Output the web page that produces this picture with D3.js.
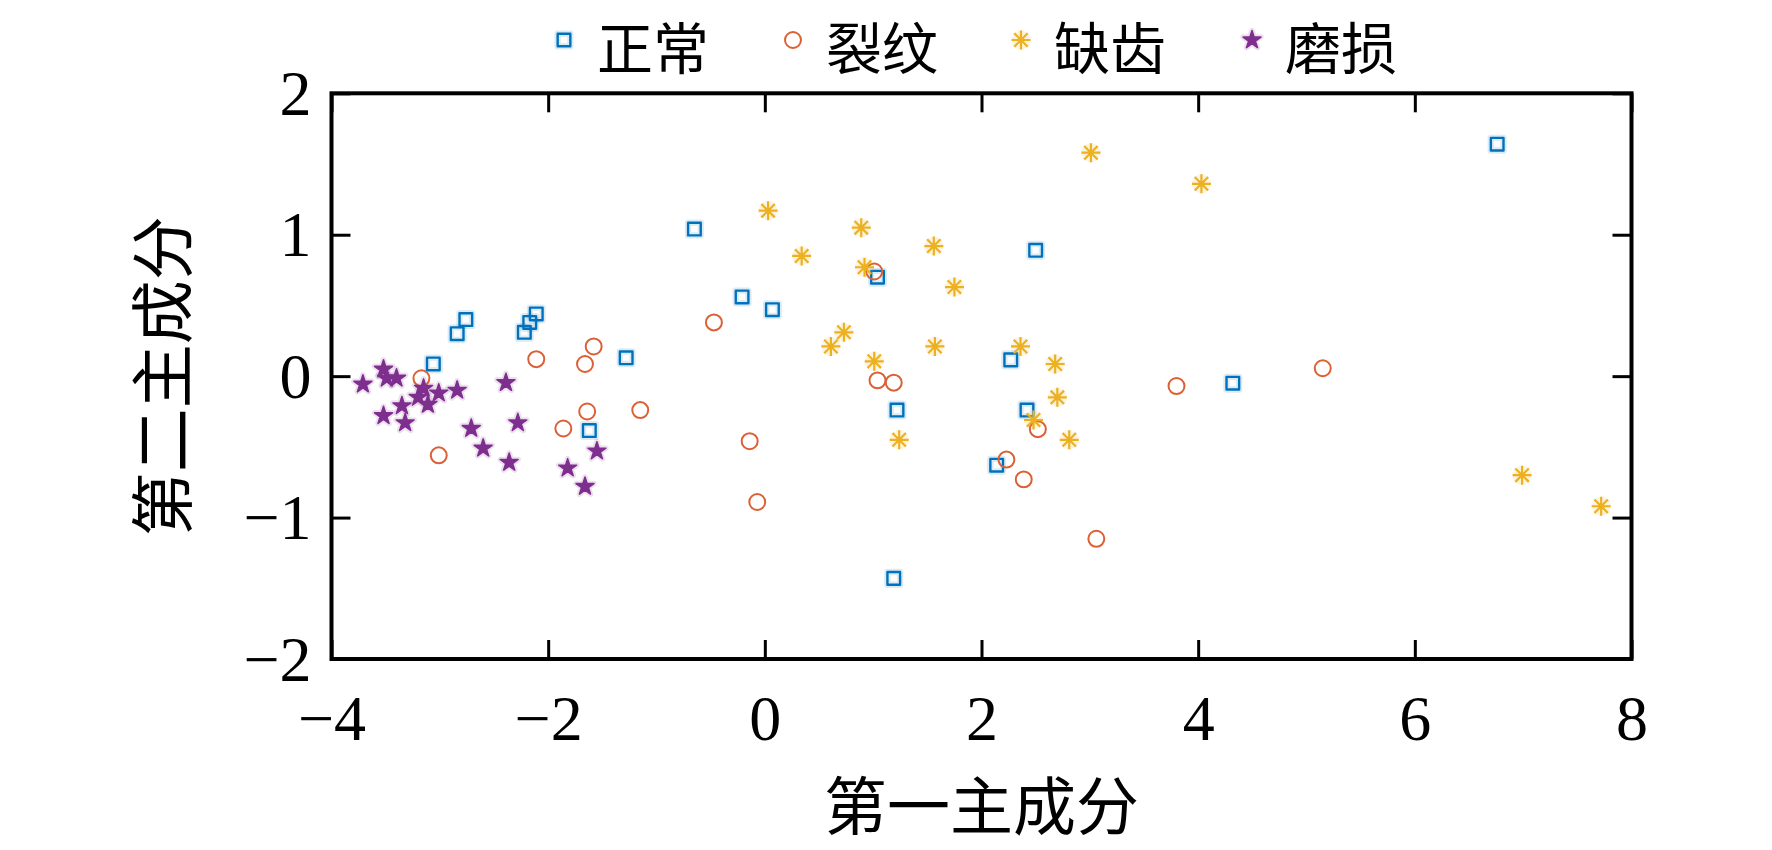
<!DOCTYPE html>
<html><head><meta charset="utf-8">
<script src="https://cdn.jsdelivr.net/npm/d3@7/dist/d3.min.js"></script>
<style>
html,body{margin:0;padding:0;background:#fff;}
svg{display:block;}
text{font-family:"Liberation Serif","Times New Roman","Noto Sans CJK SC",serif;fill:#000;}
</style></head>
<body>
<svg id="chart" width="1772" height="850"></svg>
<script>
// ---- data ----
const seriesNames = ["正常", "裂纹", "缺齿", "磨损"];
const xTicks = [-4, -2, 0, 2, 4, 6, 8];
const yTicks = [-2, -1, 0, 1, 2];
const xTitle = "第一主成分";
const yTitle = "第二主成分";

const normalX = [-3.06, -2.84, -2.76, -2.22, -2.17, -2.11, -1.62, -1.28, -0.65, -0.21, 0.07, 1.04, 1.22, 1.19, 2.14, 2.27, 2.42, 2.50, 4.32, 6.76];
const normalY = [0.086, 0.30, 0.40, 0.31, 0.38, 0.44, -0.385, 0.13, 1.04, 0.56, 0.47, 0.70, -0.24, -1.43, -0.63, 0.115, -0.24, 0.89, -0.05, 1.64];

const crackX = [-3.17, -3.01, -2.11, -1.86, -1.66, -1.58, -1.64, -1.15, -0.47, -0.14, -0.07, 1.01, 1.04, 1.19, 2.23, 2.39, 2.52, 3.06, 3.80, 5.15];
const crackY = [-0.015, -0.56, 0.12, -0.37, 0.086, 0.21, -0.25, -0.24, 0.38, -0.46, -0.89, 0.74, -0.03, -0.046, -0.59, -0.73, -0.375, -1.15, -0.07, 0.056];

const toothX = [0.03, 0.34, 0.89, 0.92, 1.56, 1.75, 3.01, 4.03, 0.73, 0.61, 1.01, 1.57, 1.24, 2.36, 2.68, 2.70, 2.48, 2.81, 6.99, 7.72];
const toothY = [1.17, 0.85, 1.05, 0.77, 0.92, 0.63, 1.58, 1.36, 0.31, 0.21, 0.105, 0.21, -0.45, 0.21, 0.086, -0.15, -0.31, -0.45, -0.70, -0.92];

const wearX = [-3.71, -3.52, -3.49, -3.40, -3.15, -3.20, -3.11, -3.01, -2.84, -3.35, -3.52, -3.32, -2.71, -2.39, -2.28, -2.60, -2.36, -1.82, -1.66, -1.55];
const wearY = [-0.057, 0.049, -0.015, -0.015, -0.086, -0.15, -0.20, -0.12, -0.10, -0.21, -0.28, -0.33, -0.37, -0.046, -0.33, -0.51, -0.61, -0.65, -0.78, -0.53];

const colors = ["#0072BD", "#DC6035", "#EDB120", "#7E2F8E"];

// ---- layout ----
const svg = d3.select("#chart");
const L = 331.5, R = 1631.5, T = 93.3, B = 659;
const x = d3.scaleLinear().domain([-4, 8]).range([L, R]);
const y = d3.scaleLinear().domain([-2, 2]).range([B, T]);

const tickLen = 19;
// axes (inward ticks)
const gx = svg.append("g").attr("transform", `translate(0,${B})`)
  .call(d3.axisBottom(x).tickValues(xTicks).tickSizeInner(-tickLen).tickSizeOuter(0).tickFormat(d3.format("d")));
const gxt = svg.append("g").attr("transform", `translate(0,${T})`)
  .call(d3.axisTop(x).tickValues(xTicks).tickSizeInner(-tickLen).tickSizeOuter(0).tickFormat(""));
const gy = svg.append("g").attr("transform", `translate(${L},0)`)
  .call(d3.axisLeft(y).tickValues(yTicks).tickSizeInner(-tickLen).tickSizeOuter(0).tickFormat(d3.format("d")));
const gyr = svg.append("g").attr("transform", `translate(${R},0)`)
  .call(d3.axisRight(y).tickValues(yTicks).tickSizeInner(-tickLen).tickSizeOuter(0).tickFormat(""));

[gx, gxt, gy, gyr].forEach(g => {
  g.select(".domain").remove();
  g.selectAll(".tick line").attr("stroke", "#000").attr("stroke-width", 3);
});
gx.selectAll(".tick text").attr("y", 81).attr("dy", null)
  .style("font-size", "64px").style("font-family", "'Liberation Serif',serif");
gy.selectAll(".tick text").attr("x", -20).attr("dy", "0.33em")
  .style("font-size", "64px").style("font-family", "'Liberation Serif',serif");
svg.selectAll(".tick text").attr("fill", "#000");

// frame
svg.append("rect").attr("x", L).attr("y", T).attr("width", R - L).attr("height", B - T)
  .attr("fill", "none").attr("stroke", "#000").attr("stroke-width", 4);

// axis titles
svg.append("text").attr("x", (L + R) / 2).attr("y", 801)
  .attr("text-anchor", "middle").attr("dominant-baseline", "central")
  .style("font-size", "63px").style("font-family", "'Noto Sans CJK SC',sans-serif").text(xTitle);
svg.append("text").attr("transform", `translate(158,${(T + B) / 2}) rotate(-90)`)
  .attr("text-anchor", "middle").attr("dominant-baseline", "central")
  .style("font-size", "64px").style("font-family", "'Noto Sans CJK SC',sans-serif").text(yTitle);

// marker drawers
function asteriskPath(r) {
  const p = d3.path();
  for (let k = 0; k < 4; k++) {
    const a = k * Math.PI / 4;
    p.moveTo(-r * Math.cos(a), -r * Math.sin(a));
    p.lineTo(r * Math.cos(a), r * Math.sin(a));
  }
  return p.toString();
}
const markerDefs = [
  { path: d3.symbol().type(d3.symbolSquare).size(160)(), fill: "none", sw: 2.4, halo: "rgba(0,114,189,0.14)" },
  { path: d3.symbol().type(d3.symbolCircle).size(200)(), fill: "none", sw: 2.0, halo: null },
  { path: asteriskPath(9.5), fill: "none", sw: 2.2, halo: "rgba(237,177,32,0.15)" },
  { path: d3.symbol().type(d3.symbolStar).size(100)(), fill: "fill", sw: 1.5, halo: "rgba(126,47,142,0.15)" }
];

function drawMarker(g, i) {
  const m = markerDefs[i];
  if (m.halo) {
    g.append("path").attr("d", m.path).attr("fill", "none")
      .attr("stroke", m.halo).attr("stroke-width", m.sw + 4).attr("stroke-linejoin", "round");
  }
  g.append("path").attr("d", m.path)
    .attr("fill", m.fill === "fill" ? colors[i] : "none")
    .attr("stroke", colors[i]).attr("stroke-width", m.sw).attr("stroke-linejoin", "round");
}

const seriesX = [normalX, crackX, toothX, wearX];
const seriesY = [normalY, crackY, toothY, wearY];

const plot = svg.append("g");
seriesX.forEach((xs, i) => {
  const pts = xs.map((v, j) => ({ x: v, y: seriesY[i][j] }));
  plot.append("g").selectAll("g").data(pts).join("g")
    .attr("transform", d => `translate(${x(d.x)},${y(d.y)})`)
    .each(function () { drawMarker(d3.select(this), i); });
});

// legend
const legendMarkerX = [564, 793, 1021, 1252];
const legend = svg.append("g");
seriesNames.forEach((name, i) => {
  const g = legend.append("g").attr("transform", `translate(${legendMarkerX[i]},40)`);
  drawMarker(g, i);
  g.append("text").attr("x", 33).attr("y", 4).attr("dominant-baseline", "central")
    .style("font-size", "56px").style("font-family", "'Noto Sans CJK SC',sans-serif").text(name);
});
</script>
</body></html>
